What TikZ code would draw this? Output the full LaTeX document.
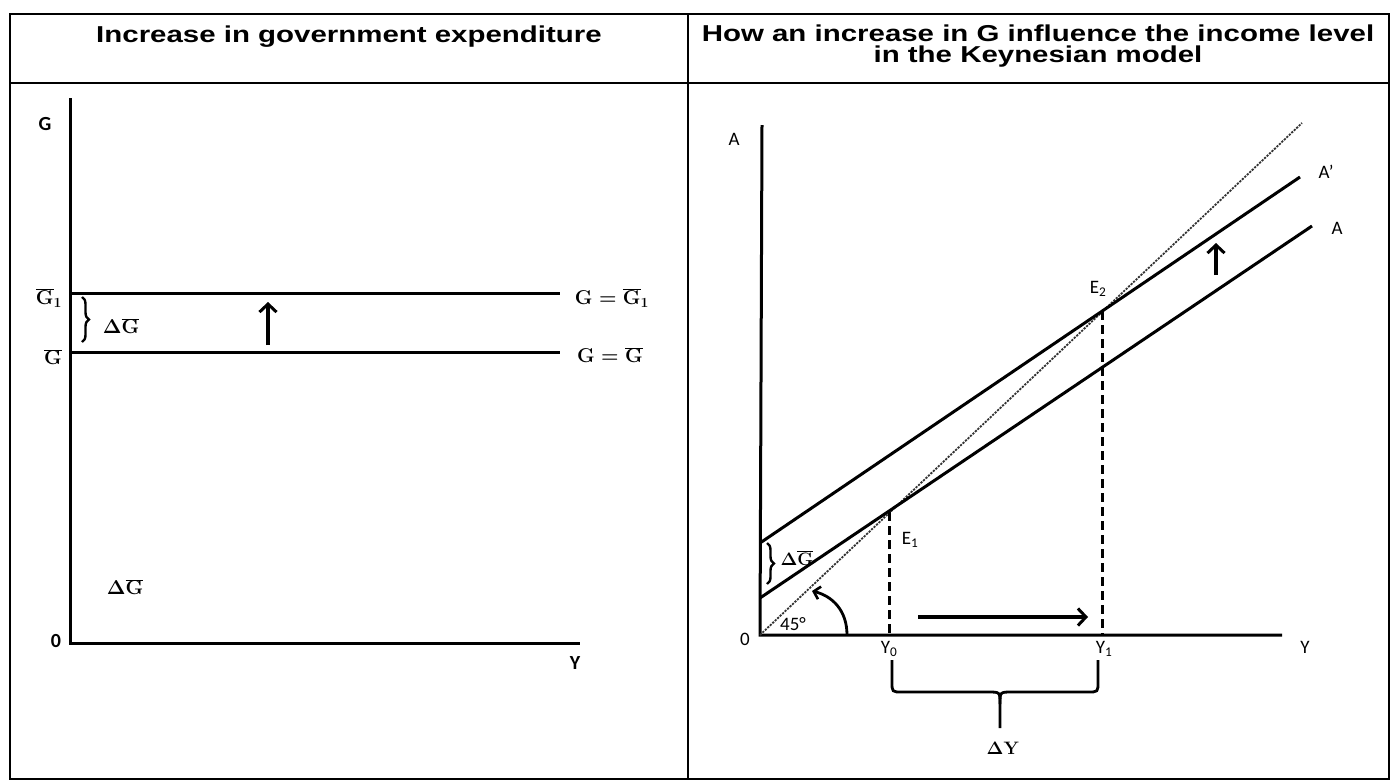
\RequirePackage{fix-cm}
\documentclass[tikz,border=0pt]{standalone}
\usepackage[no-math]{fontspec}
\setmainfont{Liberation Sans}
\newfontfamily\lblfont{Carlito}
\usetikzlibrary{arrows.meta,decorations.pathreplacing}
\newcommand{\Gb}{\overline{\mathbf{G}}}
\tikzset{
  frame/.style={line width=2.5pt},
  thinframe/.style={line width=1.5pt},
  ax/.style={line width=3pt},
  curveln/.style={line width=3pt},
  dsh/.style={line width=3pt, dash pattern=on 9pt off 5pt},
  diag/.style={line width=1.8pt, black!80, dash pattern=on 2.2pt off 1.2pt},
  arr/.style={line width=3.2pt, -{Straight Barb[length=8pt,width=17pt,line width=3pt]}},
  hdr/.style={font=\fontsize{23}{26}\selectfont\bfseries, anchor=base, inner sep=0pt},
  lbl/.style={font=\lblfont\fontsize{19}{22}\selectfont, text=black, inner sep=0pt},
  blbl/.style={font=\lblfont\bfseries\fontsize{20}{22}\selectfont, inner sep=0pt},
  mlbl/.style={font=\fontsize{20}{24}\selectfont\boldmath, inner sep=0pt},
  brc/.style={line width=2.4pt, decorate, decoration={brace, amplitude=7pt}}
}
\begin{document}
\begin{tikzpicture}[x=1pt,y=-1pt]
\useasboundingbox (0,0) rectangle (1390,780);
% table
\coordinate (TL) at (10,14); \coordinate (BR) at (1389,779);
\coordinate (DT) at (688,14); \coordinate (DB) at (688,779);
\coordinate (HL) at (10,83); \coordinate (HR) at (1389,83);
\draw[frame] (TL) rectangle (BR);
\draw[frame] (DT) -- (DB);
\draw[thinframe] (HL) -- (HR);
\node[hdr] (h1) at (349,42) {\scalebox{1.28}[1]{Increase in government expenditure}};
\node[hdr] (h2) at (1038,41) {\scalebox{1.28}[1]{How an increase in G influence the income level}};
\node[hdr] (h3) at (1038,62) {\scalebox{1.28}[1]{in the Keynesian model}};

% left graph
\coordinate (LO) at (70,643); \coordinate (Ltop) at (70,98); \coordinate (Lend) at (580,643);
\draw[ax] (Ltop) -- (LO) -- (Lend);
\coordinate (G1a) at (70,293); \coordinate (G1b) at (560,293);
\coordinate (G0a) at (70,352); \coordinate (G0b) at (560,352);
\draw[curveln] (G1a) -- (G1b);
\draw[curveln] (G0a) -- (G0b);
\coordinate (LarB) at (268,345); \coordinate (LarT) at (268,302);
\draw[arr] (LarB) -- (LarT);
\coordinate (LbrT) at (82,297); \coordinate (LbrB) at (82,342);
\draw[brc] (LbrT) -- (LbrB);
\node[blbl] (Glab) at (45,124) {G};
\node[blbl] (zeroL) at (56,641) {0};
\node[blbl] (YL) at (575,663) {Y};
\node[mlbl] (G1lab) at (49,298) {$\Gb_{1}$};
\node[mlbl] (G0lab) at (53,357) {$\Gb$};
\node[mlbl] (dGL) at (121,326) {$\Delta\Gb$};
\node[mlbl] (dGL2) at (125,587) {$\Delta\Gb$};
\node[mlbl] (eq1) at (612,298) {$\mathbf{G}=\Gb_{1}$};
\node[mlbl] (eq0) at (610,355) {$\mathbf{G}=\Gb$};

% right graph
\coordinate (RO) at (760,635); \coordinate (Rtop) at (762,125); \coordinate (Rend) at (1282,635);
\draw[ax] (Rtop) -- (RO) -- (Rend);
\coordinate (A0) at (760,598); \coordinate (A1) at (1312,226);
\coordinate (B0) at (760,543); \coordinate (B1) at (1300,177);
\coordinate (D1) at (1302,123);
\draw[diag] (RO) -- (D1);
\draw[curveln] (A0) -- (A1);
\draw[curveln] (B0) -- (B1);
\coordinate (E1) at (889,512); \coordinate (E1b) at (889,635);
\coordinate (E2) at (1102,311); \coordinate (E2b) at (1102,635);
\draw[dsh] (E1) -- (E1b);
\draw[dsh] (E2) -- (E2b);
\coordinate (HaL) at (918,617); \coordinate (HaR) at (1088,617);
\draw[arr] (HaL) -- (HaR);
\coordinate (UaB) at (1216,275); \coordinate (UaT) at (1216,243);
\draw[arr] (UaB) -- (UaT);
\coordinate (arcS) at (847,635); \coordinate (arcE) at (812,591);
\draw[line width=2.8pt, -{Straight Barb[length=6pt,width=13pt,line width=2.6pt]}] (arcS) .. controls (847,610) and (832,596) .. (arcE);
\coordinate (RbrT) at (767,543); \coordinate (RbrB) at (767,584);
\draw[brc] (RbrT) -- (RbrB);
% Delta Y bracket
\coordinate (YbL) at (892,660); \coordinate (YbR) at (1098,660); \coordinate (YbM) at (1000,728);
\draw[line width=2.8pt] (YbL) -- (892,682) .. controls (892,692) .. (902,692) -- (988,692) .. controls (1000,692) .. (1000,704) -- (YbM);
\draw[line width=2.8pt] (YbR) -- (1098,682) .. controls (1098,692) .. (1088,692) -- (1012,692) .. controls (1000,692) .. (1000,704);
\node[lbl] (Alab) at (734,139) {A};
\node[lbl] (Aplab) at (1326,172) {A’};
\node[lbl] (A2lab) at (1337,228) {A};
\node[lbl] (zeroR) at (745,639) {0};
\node[lbl] (YR) at (1305,647) {Y};
\node[lbl] (Y0lab) at (889,649) {Y\textsubscript{0}};
\node[lbl] (Y1lab) at (1104,649) {Y\textsubscript{1}};
\node[lbl] (E1lab) at (910,540) {E\textsubscript{1}};
\node[lbl] (E2lab) at (1098,289) {E\textsubscript{2}};
\node[lbl] (deg) at (793,624) {45°};
\node[mlbl, font=\fontsize{18}{22}\selectfont\boldmath] (dGR) at (797,558) {$\Delta\Gb$};
\node[mlbl, font=\fontsize{18}{22}\selectfont\boldmath] (dY) at (1003,748) {$\Delta\mathbf{Y}$};
\end{tikzpicture}
\end{document}
